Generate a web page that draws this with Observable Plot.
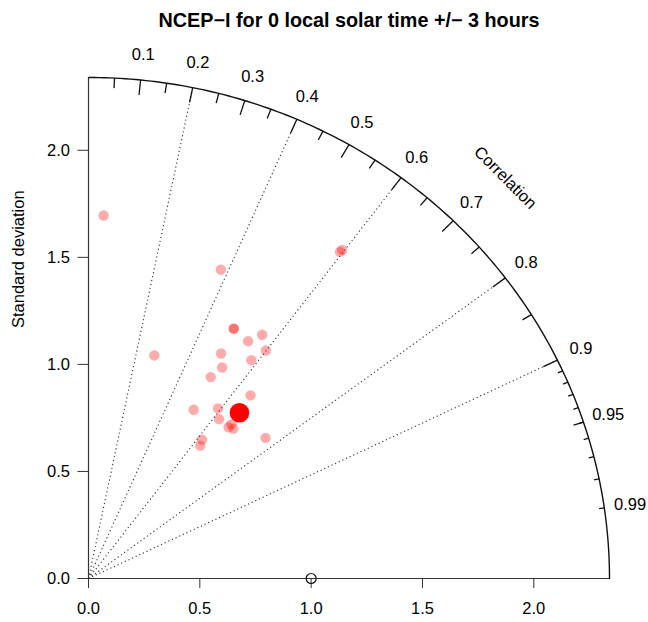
<!DOCTYPE html>
<html>
<head>
<meta charset="utf-8">
<script src="https://cdn.jsdelivr.net/npm/d3@7"></script>
<script src="https://cdn.jsdelivr.net/npm/@observablehq/plot@0.6"></script>
<style>
  html, body { margin: 0; padding: 0; background: #fff; }
  #chart svg { display: block; }
</style>
</head>
<body>
<div id="chart"></div>
<script>
// ---- data ----
const titleText = "NCEP\u2212I for 0 local solar time +/\u2212 3 hours";
const yLabelText = "Standard deviation";
const corLabelText = "Correlation";

// model points: standard deviation and correlation
const modelSd  = [1.697, 1.083, 1.560, 1.337, 1.337, 1.320, 1.380, 1.330, 1.208, 1.154, 1.255, 1.089, 1.123,
                  0.919, 0.985, 0.948, 0.946, 0.956, 0.964, 1.031, 0.825, 0.798, 1.911, 1.898];
const modelCor = [0.040, 0.273, 0.381, 0.488, 0.488, 0.543, 0.565, 0.599, 0.493, 0.520, 0.583, 0.504, 0.648,
                  0.514, 0.591, 0.619, 0.665, 0.681, 0.665, 0.771, 0.618, 0.629, 0.596, 0.595];
// highlighted (mean) point
const meanSd  = [1.029];
const meanCor = [0.659];
// reference point
const refSd = [1.0];

const maxSd = 2.34;
const corrLines = [0.2, 0.4, 0.6, 0.8, 0.9];
const bigTicks = [0.1, 0.2, 0.3, 0.4, 0.5, 0.6, 0.7, 0.8, 0.9];
const medTicks = [0.05, 0.15, 0.25, 0.35, 0.45, 0.55, 0.65, 0.75, 0.85, 0.95];
const smlTicks = [0.91, 0.92, 0.93, 0.94, 0.95, 0.96, 0.97, 0.98, 0.99];
const corLabels = ["0.1", "0.2", "0.3", "0.4", "0.5", "0.6", "0.7", "0.8", "0.9", "0.95", "0.99"];
const axisTicks = [0, 0.5, 1.0, 1.5, 2.0];

// ---- derived tables ----
const sinOf = c => Math.sqrt(1 - c * c);
const points = modelSd.map((s, i) => ({x: s * modelCor[i], y: s * sinOf(modelCor[i])}));
const meanPts = meanSd.map((s, i) => ({x: s * meanCor[i], y: s * sinOf(meanCor[i])}));
const refPts = refSd.map(s => ({x: s, y: 0}));
const rays = corrLines.map(c => ({x1: 0, y1: 0, x2: maxSd * c, y2: maxSd * sinOf(c)}));
const tickSeg = (list, inner) => list.map(c => ({
  x1: maxSd * c, y1: maxSd * sinOf(c), x2: inner * maxSd * c, y2: inner * maxSd * sinOf(c)
}));
const ticks = [...tickSeg(bigTicks, 0.97), ...tickSeg(medTicks, 0.98), ...tickSeg(smlTicks, 0.99)];
const labelPts = corLabels.map(t => {
  const c = +t;
  return {x: 1.05 * maxSd * c, y: 1.05 * maxSd * sinOf(c), t};
});
const arc = d3.range(0, Math.PI / 2, 0.01).map(a => ({x: maxSd * Math.cos(a), y: maxSd * Math.sin(a)}));

const FONT = "'Liberation Sans', Arial, Helvetica, sans-serif";
const FS = 16.5;

const chart = Plot.plot({
  width: 648,
  height: 622,
  marginLeft: 88,
  marginRight: 39,
  marginTop: 77,
  marginBottom: 44,
  x: {domain: [0, maxSd]},
  y: {domain: [0, maxSd]},
  style: {fontFamily: FONT, fontSize: FS + "px", color: "black", background: "white", overflow: "visible"},
  marks: [
    // correlation rays
    Plot.link(rays, {x1: "x1", y1: "y1", x2: "x2", y2: "y2", stroke: "#333", strokeWidth: 1.1, strokeDasharray: "1.2,2.8"}),
    // axis base lines
    Plot.ruleY([0], {x1: 0, x2: maxSd, stroke: "#333", strokeWidth: 1.2}),
    Plot.ruleX([0], {y1: 0, y2: maxSd, stroke: "#333", strokeWidth: 1.2}),
    // outer arc
    Plot.line(arc, {x: "x", y: "y", stroke: "#111", strokeWidth: 1.4}),
    // arc ticks
    Plot.link(ticks, {x1: "x1", y1: "y1", x2: "x2", y2: "y2", stroke: "#111", strokeWidth: 1.3}),
    // arc labels
    Plot.text(labelPts, {x: "x", y: "y", text: "t", fontSize: FS, fill: "black"}),
    Plot.text([corLabelText], {x: 0.8 * maxSd, y: 0.8 * maxSd, text: d => d, rotate: 45, fontSize: FS, fill: "black"}),
    // cartesian axes
    Plot.axisX(axisTicks, {tickSize: 10, tickPadding: 14, tickFormat: d3.format(".1f"), label: null, stroke: "#333", fontSize: FS}),
    Plot.axisY(axisTicks, {tickSize: 10.5, tickPadding: 8, tickFormat: d3.format(".1f"), label: null, stroke: "#333", fontSize: FS}),
    // y-axis title
    Plot.text([yLabelText], {frameAnchor: "left", dx: -70, rotate: -90, text: d => d, fontSize: FS, fill: "black", lineAnchor: "middle"}),
    // title
    Plot.text([titleText], {frameAnchor: "top", dy: -51, lineAnchor: "bottom", text: d => d, fontSize: 19.8, fontWeight: "bold", fill: "black"}),
    // reference point
    Plot.dot(refPts, {x: "x", y: "y", r: 5, stroke: "#111", strokeWidth: 1.2, fill: "none"}),
    // model points
    Plot.dot(points, {x: "x", y: "y", r: 5.2, fill: "red", fillOpacity: 0.33, stroke: "none"}),
    Plot.dot(meanPts, {x: "x", y: "y", r: 9.8, fill: "red", stroke: "none"})
  ]
});
document.getElementById("chart").appendChild(chart);
</script>
</body>
</html>
